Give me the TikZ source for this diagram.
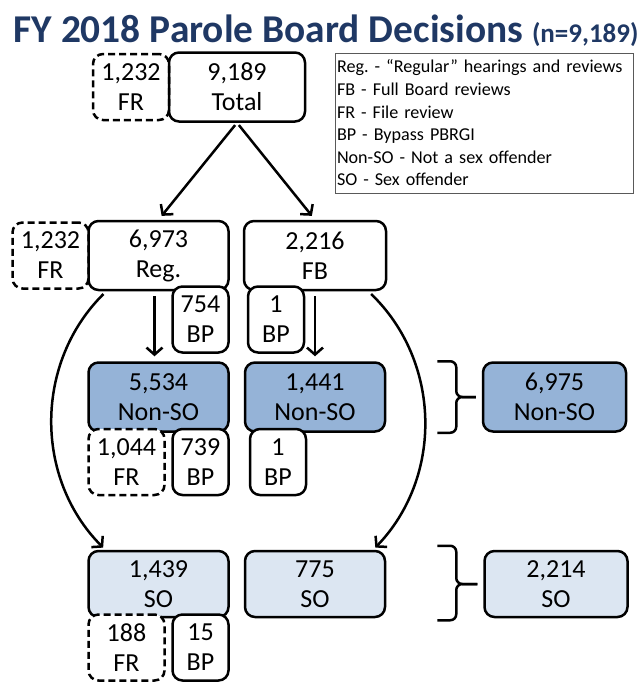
\documentclass[tikz,border=0pt]{standalone}
\usepackage{fontspec}
\setmainfont{Carlito}
\usetikzlibrary{positioning,arrows.meta}
\definecolor{titleblue}{HTML}{1F3864}
\definecolor{nonsoblue}{HTML}{95B3D7}
\definecolor{soblue}{HTML}{DCE6F2}

\begin{document}
\begin{tikzpicture}[x=1pt,y=1pt,->,>={Straight Barb[length=7pt,width=16pt]},line width=2.5pt,
    main node/.style={rectangle,draw,rounded corners=10pt,align=center,minimum width=140pt,minimum height=69pt,inner sep=0pt,font=\fontsize{26}{30}\selectfont},
    fr node/.style={main node,dash pattern=on 7pt off 4pt,minimum width=76pt,minimum height=66pt},
    bp node/.style={main node,minimum width=56pt,minimum height=66pt,fill=white},
    nonso node/.style={main node,fill=nonsoblue},
    so node/.style={main node,fill=soblue,minimum height=66pt}]
            \useasboundingbox (0,0) rectangle (640,-683);

            \node [anchor=base, text=titleblue, font=\fontsize{39.4}{44}\selectfont\bfseries](0) at (326,-42) {FY 2018 Parole Board Decisions {\fontsize{27}{30}\selectfont(n=9,189)}};

            \node [main node, minimum width=136pt](1) at (237,-87) {9,189\\Total};
            \node [fr node](2) [left=-2.5pt of 1] {1,232\\FR};

            \node [main node](3) at (158.5,-255.5) {6,973\\Reg.};
            \node [fr node](4) [left=-2.5pt of 3] {1,232\\FR};
            \node [main node, minimum width=142pt](5) [right=13pt of 3] {2,216\\FB};
            \node [bp node](6) [below left=-6pt and 0pt of 3.south east] {754\\BP};
            \node [bp node](7) [below right=-6pt and 4pt of 5.south west] {1\\BP};

            \node [nonso node](8) [below=70pt of 3] {5,534\\Non-SO};
            \node [nonso node](9) [below=70pt of 5] {1,441\\Non-SO};
            \node [fr node, fill=white](10) [below right=-5pt and 0pt of 8.south west] {1,044\\FR};
            \node [bp node](11) [below left=-5pt and 0pt of 8.south east] {739\\BP};
            \node [bp node](12) [below right=-5pt and 5pt of 9.south west] {1\\BP};
            \node [nonso node, minimum width=143pt](13) at (554.5,-397) {6,975\\Non-SO};

            \node [so node](14) [below=117pt of 8] {1,439\\SO};
            \node [so node](15) [below=117pt of 9] {775\\SO};
            \node [fr node, fill=white](16) [below right=-5pt and 0pt of 14.south west] {188\\FR};
            \node [bp node](17) [below left=-5pt and 0pt of 14.south east] {15\\BP};
            \node [so node, minimum width=143pt](18) at (556,-584) {2,214\\SO};

            % legend
            \node [rectangle, draw=black!65, line width=1pt, text width=294pt, inner xsep=2pt, minimum height=140pt, align=left, font=\fontsize{18.1}{22.6}\selectfont](19) at (484,-123) {Reg.\ - “Regular” hearings and reviews\\FB - Full Board reviews\\FR - File review\\BP - Bypass PBRGI\\Non-SO - Not a sex offender\\SO - Sex offender};

            \path
                (1.south) edge [shorten <=3pt, shorten >=5pt] (3.north)
                (1.south) edge [shorten <=3pt, shorten >=5pt] (5.north)
                ([xshift=-4pt]3.south) edge [shorten <=5pt, shorten >=5pt] ([xshift=-4pt]8.north)
                (5.south) edge [shorten <=5pt, shorten >=5pt] (9.north)
                ([xshift=19pt]3.south west) edge [bend right=45, shorten <=4pt, shorten >=3pt] ([xshift=18pt]14.north west)
                ([xshift=-19pt]5.south east) edge [bend left=45, shorten <=4pt, shorten >=3pt] ([xshift=-13pt]15.north east)
                ;

            % braces
            \draw [-, rounded corners=6pt] ([xshift=51pt]9.north east) -- ++(19,0) |- ([xshift=-6pt]13.west);
            \draw [-, rounded corners=6pt] ([xshift=51pt]9.south east) -- ++(19,0) |- ([xshift=-6pt]13.west);
            \draw [-, rounded corners=6pt] ([xshift=51pt,yshift=4pt]15.north east) -- ++(19,0) |- ([xshift=-6pt]18.west);
            \draw [-, rounded corners=6pt] ([xshift=51pt,yshift=-2pt]15.south east) -- ++(19,0) |- ([xshift=-6pt]18.west);
\end{tikzpicture}
\end{document}
